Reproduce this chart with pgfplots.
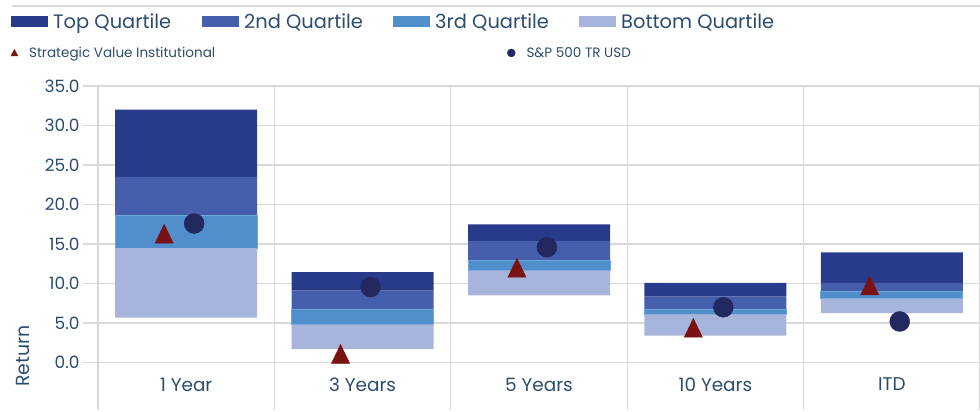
\documentclass[border=0pt]{standalone}
\usepackage{pgfplots}
\usepackage{pgfplotstable}
\pgfplotsset{compat=1.18}
\usepackage{fontspec}
\setmainfont{Poppins}
\definecolor{qtop}{RGB}{40,59,138}
\definecolor{qsec}{RGB}{69,95,172}
\definecolor{qthr}{RGB}{80,142,204}
\definecolor{qbot}{RGB}{167,180,220}
\definecolor{qthrB}{RGB}{110,165,218}
\definecolor{tri}{RGB}{122,18,18}
\definecolor{dotc}{RGB}{36,40,96}
\definecolor{txt}{RGB}{44,76,110}
\definecolor{grd}{RGB}{217,217,217}

% floating quartile boxes: base (invisible), then heights of each quartile band
\pgfplotstableread{
x base bot thr sec top
0 5.70 8.80 4.15 4.85 8.50
1 1.70 3.10 1.95 2.35 2.35
2 8.50 3.15 1.25 2.50 2.10
3 3.40 2.70 0.60 1.65 1.75
4 6.25 1.85 0.90 1.10 3.85
}\quart
\pgfplotstableread{
x y
-0.125 16.3
0.875 1.1
1.875 12.0
2.875 4.4
3.875 9.75
}\strat
\pgfplotstableread{
x y
0.045 17.6
1.045 9.55
2.045 14.6
3.045 7.0
4.045 5.2
}\spx

\pgfplotsset{
  qleg/.style={legend image code/.code={\fill[##1, draw=none] (0bp,-5.5bp) rectangle (37bp,5.5bp);}},
  common/.style={
    at={(98bp,2bp)}, anchor=south west,
    width=882bp, height=324bp, scale only axis,
    xmin=-0.5, xmax=4.5, ymin=-6, ymax=35,
  },
}

\begin{document}
\begin{tikzpicture}
\useasboundingbox (0,0) rectangle (980bp,412bp);
\draw[grd, line width=1.3bp] (12bp,406bp) -- (980bp,406bp);
\begin{axis}[
  common,
  ybar stacked, bar width=0.805,
  xtick={0,1,2,3,4},
  xticklabels={1 Year,3 Years,5 Years,10 Years,ITD},
  minor xtick={-0.5,0.5,1.5,2.5,3.5,4.5},
  xminorgrids=true, xmajorgrids=false,
  ytick={0,5,10,15,20,25,30,35},
  yticklabels={0.0,5.0,10.0,15.0,20.0,25.0,30.0,35.0},
  ymajorgrids=true,
  grid style={grd, line width=1.3bp},
  minor grid style={grd, line width=1.3bp},
  axis line style={draw=none},
  x tick style={draw=none},
  minor x tick style={draw=none},
  y tick style={grd, line width=1.3bp},
  tick align=outside, major tick length=15bp,
  yticklabel style={font=\fontsize{17}{20}\selectfont, text=txt},
  xticklabel style={font=\fontsize{18.5}{21}\selectfont, text=txt, anchor=center, yshift=40.5bp},
]
\addplot[fill=none, draw=none, forget plot] table[x=x, y=base] {\quart};
\addplot[fill=qbot, draw=none] table[x=x, y=bot] {\quart};
\addplot[fill=qthr, draw=qthrB, line width=0.8bp] table[x=x, y=thr] {\quart};
\addplot[fill=qsec, draw=none] table[x=x, y=sec] {\quart};
\addplot[fill=qtop, draw=none] table[x=x, y=top] {\quart};
\end{axis}
% legend row 1 (order Top, 2nd, 3rd, Bottom)
\begin{axis}[
  common, axis lines=none, xtick=\empty, ytick=\empty,
  legend columns=4,
  legend style={at={(axis description cs:-0.0986,1.199)}, anchor=west,
    draw=none, fill=none, inner sep=0pt,
    font=\fontsize{19.5}{22}\selectfont, text=txt,
    nodes={inner sep=0pt, anchor=west},
    /tikz/every odd column/.append style={column sep=5bp}},
]
\addlegendimage{qleg, fill=qtop}
\addlegendentry{\makebox[149bp][l]{Top Quartile}}
\addlegendimage{qleg, fill=qsec}
\addlegendentry{\makebox[149bp][l]{2nd Quartile}}
\addlegendimage{qleg, fill=qthr}
\addlegendentry{\makebox[144bp][l]{3rd Quartile}}
\addlegendimage{qleg, fill=qbot}
\addlegendentry{Bottom Quartile}
\end{axis}
\begin{axis}[
  common, axis lines=none, xtick=\empty, ytick=\empty,
  legend columns=2,
  legend style={at={(axis description cs:-0.0992,1.102)}, anchor=west,
    draw=none, fill=none, inner sep=0pt,
    font=\fontsize{13.6}{16}\selectfont, text=txt,
    nodes={inner sep=0pt, anchor=west},
    /tikz/every odd column/.append style={column sep=11bp}},
]
\addplot[only marks, mark=triangle*, mark size=10.5bp, color=tri,
  every mark/.append style={yscale=1.2, yshift=-2.6bp},
  legend image code/.code={\fill[tri] (0bp,-3bp) -- (7bp,-3bp) -- (3.5bp,3.5bp) -- cycle;}]
  table[x=x, y=y] {\strat};
\addlegendentry{\makebox[478bp][l]{Strategic Value Institutional}}
\addplot[only marks, mark=*, mark size=10bp, color=dotc,
  legend image code/.code={\fill[dotc] (4bp,0bp) circle (4bp);}]
  table[x=x, y=y] {\spx};
\addlegendentry{S\&P 500 TR USD}
\end{axis}
\node[rotate=90, text=txt, font=\fontsize{19}{22}\selectfont] at (23bp,56bp) {Return};
\end{tikzpicture}
\end{document}
